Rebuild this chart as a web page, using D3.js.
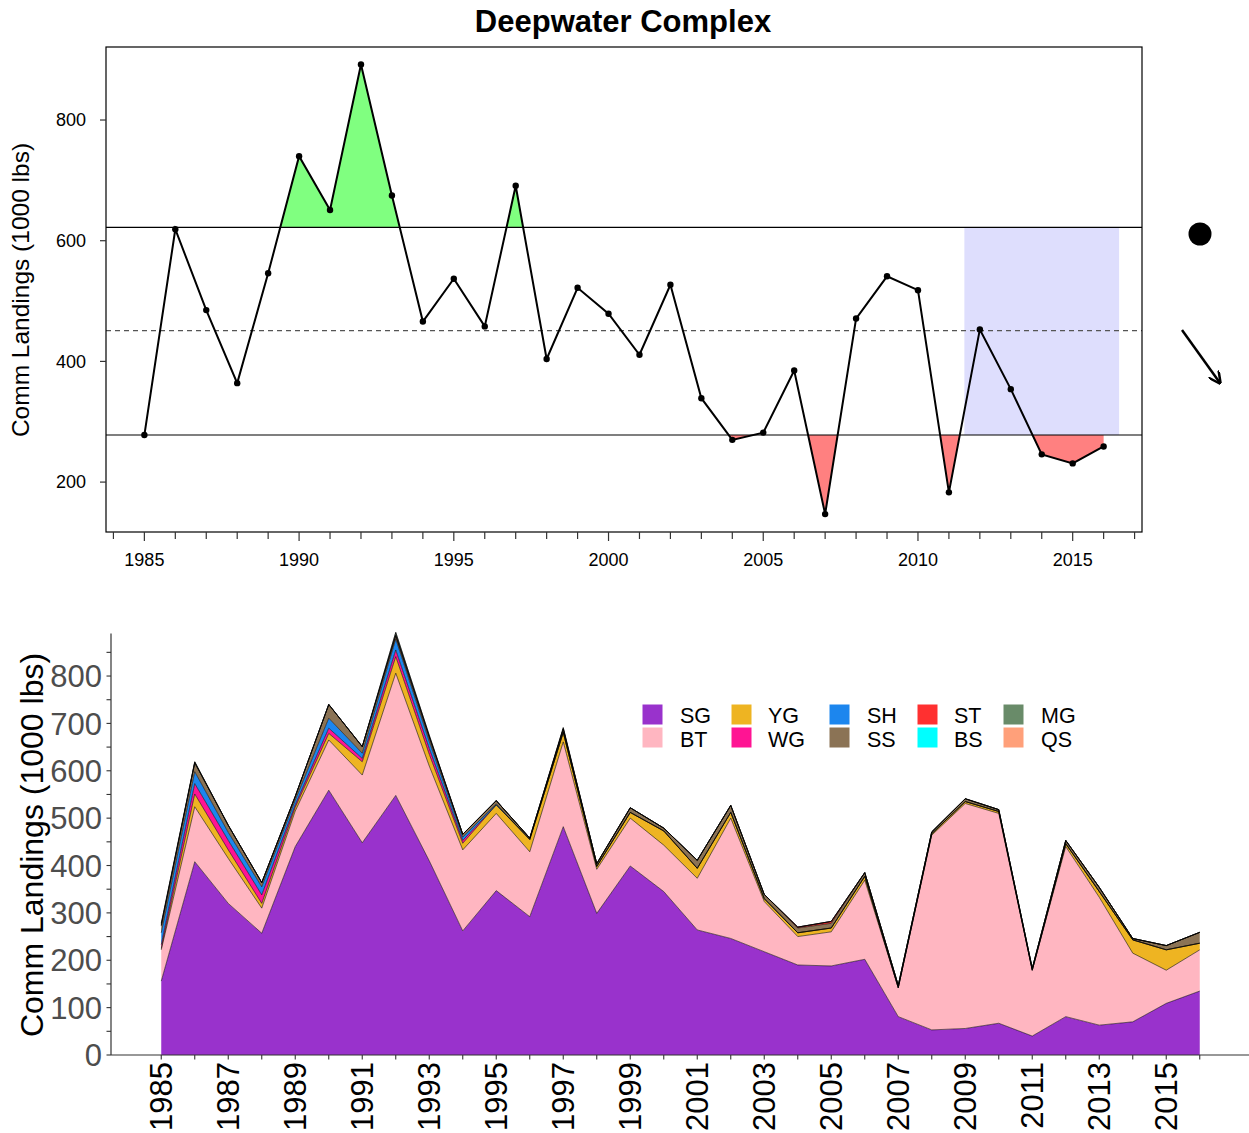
<!DOCTYPE html>
<html>
<head>
<meta charset="utf-8">
<script src="https://cdn.jsdelivr.net/npm/d3@7"></script>
<style>
  body { margin: 0; background: #fff; }
  svg { display: block; font-family: "Liberation Sans", Arial, sans-serif; }
</style>
</head>
<body>
<svg id="canvas" width="1249" height="1133"></svg>
<script>
// years and total commercial landings (1000 lbs)
var years = [1985,1986,1987,1988,1989,1990,1991,1992,1993,1994,1995,1996,1997,1998,1999,2000,
             2001,2002,2003,2004,2005,2006,2007,2008,2009,2010,2011,2012,2013,2014,2015,2016];
var landings = [278,619,485,364,546,740,651,892,675,466,537,458,691,404,522,479,
                411,527,339,270,282,385,147,471,541,518,183,453,354,246,231,259];

// reference lines: mean and mean +/- 1 sd
var meanLine = 451;
var upperLine = 622;
var lowerLine = 278;
var recentStart = 2011.5, recentEnd = 2016.5;

// landings by species
var species = ["SG","BT","YG","WG","SH","SS","ST","BS","MG","QS"];
var colors = ["#9932CC","#FFB6C1","#EEB422","#FF1493","#1C86EE","#8B7355","#FF3030","#00FFFF","#698B69","#FFA07A"];
var SG = [156,408,320,257,440,559,448,548,410,262,347,292,482,299,399,345,264,246,218,190,188,202,81,53,56,67,40,81,63,70,109,135];
var BT = [66,116,95,53,75,106,143,258,200,171,163,137,179,93,101,98,109,254,106,60,72,167,61,411,475,443,139,359,270,145,70,87];
var YG = [3,27,18,10,8,14,28,35,25,14,18,26,20,6,12,30,21,12,6,8,8,8,0,3,4,4,0,6,12,28,43,14];
var WG = [8,22,20,18,5,11,7,14,12,6,0,0,0,0,0,0,0,0,0,0,0,0,0,0,0,0,0,0,0,0,0,0];
var SH = [25,25,17,17,10,21,11,23,15,7,2,0,0,0,0,0,0,0,0,0,0,0,0,0,0,0,0,0,0,0,0,0];
var SS = [14,19,15,9,8,29,14,6,8,6,7,3,7,6,10,6,17,15,9,10,10,8,5,4,6,4,4,7,9,3,9,23];
var ST = [2,0,0,0,0,0,0,2,2,0,0,0,0,0,0,0,0,0,0,2,4,0,0,0,0,0,0,0,0,0,0,0];
var BS = [0,0,0,0,0,0,0,0,0,0,0,0,0,0,0,0,0,0,0,0,0,0,0,0,0,0,0,0,0,0,0,0];
var MG = [4,2,0,0,0,0,0,6,3,0,0,0,3,0,0,0,0,0,0,0,0,0,0,0,0,0,0,0,0,0,0,0];
var QS = [0,0,0,0,0,0,0,0,0,0,0,0,0,0,0,0,0,0,0,0,0,0,0,0,0,0,0,0,0,0,0,0];
var bySpecies = {SG: SG, BT: BT, YG: YG, WG: WG, SH: SH, SS: SS, ST: ST, BS: BS, MG: MG, QS: QS};

var svg = d3.select('#canvas');
var defs = svg.append('defs');

// ---------------- top panel ----------------
var p1 = svg.append('g');
var x1 = d3.scaleLinear().domain([1983.76, 2017.24]).range([106, 1142]);
var y1 = d3.scaleLinear().domain([117.3, 921]).range([532, 47]);

var pts = years.map(function(y, i) { return {year: y, v: landings[i]}; });

p1.append('text')
    .attr('x', 623).attr('y', 32)
    .attr('text-anchor', 'middle')
    .style('font-size', '31px').style('font-weight', 'bold')
    .text('Deepwater Complex');

// recent window
p1.append('rect')
    .attr('x', x1(recentStart)).attr('y', y1(upperLine))
    .attr('width', x1(recentEnd) - x1(recentStart))
    .attr('height', y1(lowerLine) - y1(upperLine))
    .style('fill', '#dedefd');

// clip regions for shading above / below the bounds
defs.append('clipPath').attr('id', 'clipAbove').append('rect')
    .attr('x', 106).attr('y', 47).attr('width', 1036).attr('height', y1(upperLine) - 47);
defs.append('clipPath').attr('id', 'clipBelow').append('rect')
    .attr('x', 106).attr('y', y1(lowerLine)).attr('width', 1036).attr('height', 532 - y1(lowerLine));

p1.append('path')
    .datum(pts)
    .attr('clip-path', 'url(#clipAbove)')
    .attr('d', d3.area()
        .x(function(d) { return x1(d.year); })
        .y0(y1(upperLine))
        .y1(function(d) { return y1(d.v); }))
    .style('fill', '#80FF80');

p1.append('path')
    .datum(pts)
    .attr('clip-path', 'url(#clipBelow)')
    .attr('d', d3.area()
        .x(function(d) { return x1(d.year); })
        .y0(y1(lowerLine))
        .y1(function(d) { return y1(d.v); }))
    .style('fill', '#FF8080');

// bound lines
[upperLine, lowerLine].forEach(function(v) {
    p1.append('line')
        .attr('x1', 106).attr('x2', 1142)
        .attr('y1', y1(v)).attr('y2', y1(v))
        .style('stroke', '#000').style('stroke-width', 1.2);
});
p1.append('line')
    .attr('x1', 106).attr('x2', 1142)
    .attr('y1', y1(meanLine)).attr('y2', y1(meanLine))
    .style('stroke', '#555').style('stroke-width', 1.2)
    .style('stroke-dasharray', '5,4');

p1.append('path')
    .datum(pts)
    .attr('d', d3.line()
        .x(function(d) { return x1(d.year); })
        .y(function(d) { return y1(d.v); }))
    .style('fill', 'none').style('stroke', '#000').style('stroke-width', 2);

p1.selectAll('circle.pt')
    .data(pts)
    .enter()
    .append('circle')
    .attr('class', 'pt')
    .attr('cx', function(d) { return x1(d.year); })
    .attr('cy', function(d) { return y1(d.v); })
    .attr('r', 3.2)
    .style('fill', '#000');

// box
p1.append('rect')
    .attr('x', 106).attr('y', 47).attr('width', 1036).attr('height', 485)
    .style('fill', 'none').style('stroke', '#000').style('stroke-width', 1.2);

// axes
var xAxisTop = p1.append('g').attr('transform', 'translate(0,532)');
xAxisTop.selectAll('line')
    .data(d3.range(1984, 2018))
    .enter()
    .append('line')
    .attr('x1', function(d) { return x1(d); })
    .attr('x2', function(d) { return x1(d); })
    .attr('y1', 0)
    .attr('y2', function(d) { return d % 5 === 0 ? 9 : 7; })
    .style('stroke', '#333').style('stroke-width', 1.2);
xAxisTop.selectAll('text')
    .data([1985, 1990, 1995, 2000, 2005, 2010, 2015])
    .enter()
    .append('text')
    .attr('x', function(d) { return x1(d); })
    .attr('y', 34)
    .attr('text-anchor', 'middle')
    .style('font-size', '18px')
    .text(function(d) { return d; });

var yAxisTop = p1.append('g');
yAxisTop.selectAll('line')
    .data([200, 400, 600, 800])
    .enter()
    .append('line')
    .attr('x1', 100).attr('x2', 106)
    .attr('y1', function(d) { return y1(d); })
    .attr('y2', function(d) { return y1(d); })
    .style('stroke', '#333').style('stroke-width', 1.2);
yAxisTop.selectAll('text')
    .data([200, 400, 600, 800])
    .enter()
    .append('text')
    .attr('x', 86)
    .attr('y', function(d) { return y1(d); })
    .attr('dy', '0.35em')
    .attr('text-anchor', 'end')
    .style('font-size', '18px')
    .text(function(d) { return d; });

p1.append('text')
    .attr('transform', 'translate(29,290) rotate(-90)')
    .attr('text-anchor', 'middle')
    .style('font-size', '24.5px')
    .text('Comm Landings (1000 lbs)');

// status symbols on the right
p1.append('circle')
    .attr('cx', 1200).attr('cy', 234).attr('r', 11.5)
    .style('fill', '#000');
defs.append('marker')
    .attr('id', 'arrow')
    .attr('viewBox', '0 0 10 10')
    .attr('refX', 9).attr('refY', 5)
    .attr('markerWidth', 5).attr('markerHeight', 5)
    .attr('orient', 'auto')
    .append('path')
    .attr('d', 'M0,0 L10,5 L0,10')
    .style('fill', 'none').style('stroke', '#000').style('stroke-width', 2);
p1.append('line')
    .attr('x1', 1182).attr('y1', 330)
    .attr('x2', 1220).attr('y2', 383)
    .attr('marker-end', 'url(#arrow)')
    .style('stroke', '#000').style('stroke-width', 2.5);

// ---------------- bottom panel ----------------
var p2 = svg.append('g');
var x2 = d3.scaleLinear().domain([1983.5, 2017.5]).range([111, 1250]);
var y2 = d3.scaleLinear().domain([0, 890]).range([1055, 633.4]);

var rows = years.map(function(y, i) {
    var r = {year: y};
    species.forEach(function(s) { r[s] = bySpecies[s][i]; });
    return r;
});
var stacked = d3.stack().keys(species)(rows);

var area = d3.area()
    .x(function(d) { return x2(d.data.year); })
    .y0(function(d) { return y2(d[0]); })
    .y1(function(d) { return y2(d[1]); });
var upperEdge = d3.line()
    .x(function(d) { return x2(d.data.year); })
    .y(function(d) { return y2(d[1]); });

p2.selectAll('path.layer')
    .data(stacked)
    .enter()
    .append('path')
    .attr('class', 'layer')
    .attr('d', area)
    .style('fill', function(d, i) { return colors[i]; });

p2.selectAll('path.edge')
    .data(stacked)
    .enter()
    .append('path')
    .attr('class', 'edge')
    .attr('d', upperEdge)
    .style('fill', 'none')
    .style('stroke', '#000')
    .style('stroke-width', 0.7)
    .style('stroke-opacity', 0.8);

// axes
p2.append('line')
    .attr('x1', 111).attr('x2', 1249).attr('y1', 1055).attr('y2', 1055)
    .style('stroke', '#333').style('stroke-width', 1.2);
p2.append('line')
    .attr('x1', 111).attr('x2', 111).attr('y1', y2(890)).attr('y2', 1055)
    .style('stroke', '#333').style('stroke-width', 1.2);

p2.selectAll('line.xt')
    .data(years)
    .enter()
    .append('line')
    .attr('class', 'xt')
    .attr('x1', function(d) { return x2(d); })
    .attr('x2', function(d) { return x2(d); })
    .attr('y1', 1055).attr('y2', 1059.5)
    .style('stroke', '#333').style('stroke-width', 1.1);
p2.selectAll('text.xl')
    .data(years.filter(function(d) { return d % 2 === 1; }))
    .enter()
    .append('text')
    .attr('class', 'xl')
    .attr('transform', function(d) { return 'translate(' + x2(d) + ',1062) rotate(-90)'; })
    .attr('dy', '0.35em')
    .attr('text-anchor', 'end')
    .style('font-size', '31px')
    .style('fill', '#000')
    .text(function(d) { return d; });

p2.selectAll('line.yt')
    .data(d3.range(0, 851, 50))
    .enter()
    .append('line')
    .attr('class', 'yt')
    .attr('x1', 106.5).attr('x2', 111)
    .attr('y1', function(d) { return y2(d); })
    .attr('y2', function(d) { return y2(d); })
    .style('stroke', '#333').style('stroke-width', 1.1);
p2.selectAll('text.yl')
    .data(d3.range(0, 801, 100))
    .enter()
    .append('text')
    .attr('class', 'yl')
    .attr('x', 102)
    .attr('y', function(d) { return y2(d); })
    .attr('dy', '0.36em')
    .attr('text-anchor', 'end')
    .style('font-size', '31px')
    .style('fill', '#4D4D4D')
    .text(function(d) { return d; });

p2.append('text')
    .attr('transform', 'translate(43,845) rotate(-90)')
    .attr('text-anchor', 'middle')
    .style('font-size', '32px')
    .text('Comm Landings (1000 lbs)');

// legend: 2 rows, filled column by column
var legend = p2.append('g');
var colX = [642, 731, 829, 917, 1003];
var textX = [680, 768, 867, 954, 1041];
species.forEach(function(s, i) {
    var c = Math.floor(i / 2), r = i % 2;
    legend.append('rect')
        .attr('x', colX[c]).attr('y', 704 + r * 23)
        .attr('width', 21).attr('height', 21)
        .style('fill', colors[i])
        .style('stroke', '#fff').style('stroke-width', 1);
    legend.append('text')
        .attr('x', textX[c]).attr('y', 722.5 + r * 24)
        .style('font-size', '21.5px')
        .text(s);
});
</script>
</body>
</html>
